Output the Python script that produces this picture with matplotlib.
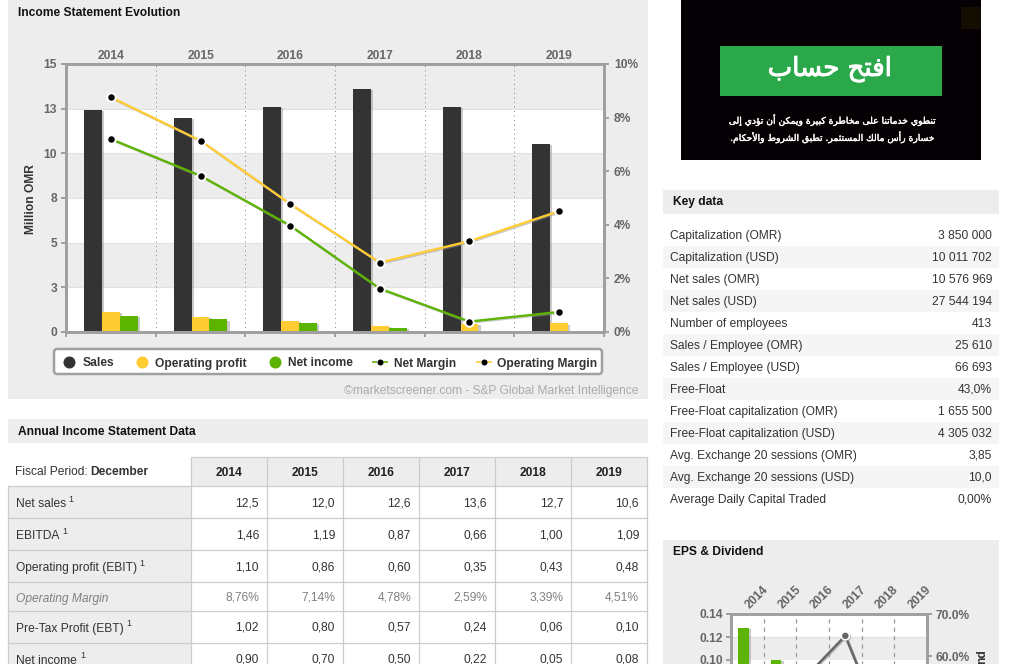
import numpy as np
import matplotlib
matplotlib.use("Agg")
import matplotlib.pyplot as plt
import matplotlib.patheffects as pe
from matplotlib.patches import Rectangle, FancyBboxPatch

W, H = 1009, 664
years = ["2014", "2015", "2016", "2017", "2018", "2019"]
sales = [12.43, 12.0, 12.6, 13.6, 12.6, 10.52]
operating_profit = [1.10, 0.86, 0.60, 0.35, 0.43, 0.48]
net_income = [0.90, 0.70, 0.50, 0.22, 0.05, 0.08]
net_margin = [7.2, 5.83, 3.97, 1.62, 0.39, 0.75]
operating_margin = [8.76, 7.14, 4.78, 2.59, 3.39, 4.51]
left_ticks = [0, 2.5, 5, 7.5, 10, 12.5, 15]
left_labels = ["0", "3", "5", "8", "10", "13", "15"]
right_ticks = [0, 2, 4, 6, 8, 10]

eps = [0.128, 0.100, 0.071, 0.031, 0.007, 0.011]
dividend_pct = [np.nan, np.nan, 56.7, 64.8, 45.7, np.nan]

table_labels = ["Net sales", "EBITDA", "Operating profit (EBIT)", "Operating Margin",
                "Pre-Tax Profit (EBT)", "Net income"]
table_values = [
    ["12,5", "12,0", "12,6", "13,6", "12,7", "10,6"],
    ["1,46", "1,19", "0,87", "0,66", "1,00", "1,09"],
    ["1,10", "0,86", "0,60", "0,35", "0,43", "0,48"],
    ["8,76%", "7,14%", "4,78%", "2,59%", "3,39%", "4,51%"],
    ["1,02", "0,80", "0,57", "0,24", "0,06", "0,10"],
    ["0,90", "0,70", "0,50", "0,22", "0,05", "0,08"],
]
key_labels = ["Capitalization (OMR)", "Capitalization (USD)", "Net sales (OMR)", "Net sales (USD)",
              "Number of employees", "Sales / Employee (OMR)", "Sales / Employee (USD)", "Free-Float",
              "Free-Float capitalization (OMR)", "Free-Float capitalization (USD)",
              "Avg. Exchange 20 sessions (OMR)", "Avg. Exchange 20 sessions (USD)",
              "Average Daily Capital Traded"]
key_values = ["3 850 000", "10 011 702", "10 576 969", "27 544 194", "413", "25 610", "66 693",
              "43,0%", "1 655 500", "4 305 032", "3,85", "10,0", "0,00%"]

ad_button = "افتح حساب"
ad_line1 = "تنطوي خدماتنا على مخاطرة كبيرة ويمكن أن تؤدي إلى"
ad_line2 = "خسارة رأس مالك المستثمر. تطبق الشروط والأحكام."

# contextual Arabic forms: letter -> (isolated, final, initial, medial)
FORMS = {
    'ا': (0xFE8D, 0xFE8E, None, None), 'أ': (0xFE83, 0xFE84, None, None), 'إ': (0xFE87, 0xFE88, None, None),
    'ب': (0xFE8F, 0xFE90, 0xFE91, 0xFE92), 'ت': (0xFE95, 0xFE96, 0xFE97, 0xFE98),
    'ث': (0xFE99, 0xFE9A, 0xFE9B, 0xFE9C), 'ح': (0xFEA1, 0xFEA2, 0xFEA3, 0xFEA4),
    'خ': (0xFEA5, 0xFEA6, 0xFEA7, 0xFEA8), 'د': (0xFEA9, 0xFEAA, None, None),
    'ر': (0xFEAD, 0xFEAE, None, None), 'س': (0xFEB1, 0xFEB2, 0xFEB3, 0xFEB4),
    'ش': (0xFEB5, 0xFEB6, 0xFEB7, 0xFEB8), 'ط': (0xFEC1, 0xFEC2, 0xFEC3, 0xFEC4),
    'ع': (0xFEC9, 0xFECA, 0xFECB, 0xFECC), 'ف': (0xFED1, 0xFED2, 0xFED3, 0xFED4),
    'ق': (0xFED5, 0xFED6, 0xFED7, 0xFED8), 'ك': (0xFED9, 0xFEDA, 0xFEDB, 0xFEDC),
    'ل': (0xFEDD, 0xFEDE, 0xFEDF, 0xFEE0), 'م': (0xFEE1, 0xFEE2, 0xFEE3, 0xFEE4),
    'ن': (0xFEE5, 0xFEE6, 0xFEE7, 0xFEE8), 'ه': (0xFEE9, 0xFEEA, 0xFEEB, 0xFEEC),
    'ة': (0xFE93, 0xFE94, None, None), 'و': (0xFEED, 0xFEEE, None, None),
    'ؤ': (0xFE85, 0xFE86, None, None), 'ى': (0xFEEF, 0xFEF0, None, None),
    'ي': (0xFEF1, 0xFEF2, 0xFEF3, 0xFEF4),
}
LAM_ALEF = {'ا': (0xFEFB, 0xFEFC), 'أ': (0xFEF7, 0xFEF8), 'إ': (0xFEF9, 0xFEFA)}


def shape(s):
    i = 0
    out = []
    chars = list(s)
    prev_join = False
    while i < len(chars):
        c = chars[i]
        if c not in FORMS:
            out.append(c)
            prev_join = False
            i += 1
            continue
        nxt = chars[i + 1] if i + 1 < len(chars) else ''
        if c == 'ل' and nxt in LAM_ALEF:
            out.append(chr(LAM_ALEF[nxt][1 if prev_join else 0]))
            prev_join = False
            i += 2
            continue
        f = FORMS[c]
        to_next = f[2] is not None and nxt in FORMS
        if prev_join and to_next:
            cp = f[3]
        elif prev_join:
            cp = f[1]
        elif to_next:
            cp = f[2]
        else:
            cp = f[0]
        out.append(chr(cp))
        prev_join = to_next
        i += 1
    return ''.join(reversed(out))


plt.rcParams['font.family'] = ['Liberation Sans', 'DejaVu Sans']
PX = 72 / 100


def px(v):
    return v * PX


fig = plt.figure(figsize=(W / 100, H / 100), dpi=100, facecolor='white')
bg = fig.add_axes([0, 0, 1, 1], zorder=0)
bg.set_xlim(0, W)
bg.set_ylim(H, 0)
bg.axis('off')


def rect(x0, y0, x1, y1, color, ax=bg, z=1, **kw):
    ax.add_patch(Rectangle((x0, y0), x1 - x0, y1 - y0, facecolor=color, edgecolor='none', zorder=z, **kw))


def txt(x, y, s, size=12, color='#333333', weight='normal', ha='left', va='center', style='normal',
        z=5, ax=bg, **kw):
    return ax.text(x, y + 1, s, fontsize=px(size), color=color, fontweight=weight, ha=ha, va=va,
                   fontstyle=style, zorder=z, **kw)


def axes_px(x0, y0, x1, y1, z=2):
    a = fig.add_axes([x0 / W, 1 - y1 / H, (x1 - x0) / W, (y1 - y0) / H], zorder=z)
    a.patch.set_alpha(0)
    return a


# ---------- panels ----------
rect(8, 0, 648, 399, '#EDEDED')
txt(18, 12, "Income Statement Evolution", weight='bold', color='#111111')
rect(8, 419, 648, 443, '#EDEDED')
txt(18, 431, "Annual Income Statement Data", weight='bold', color='#111111')
rect(663, 190, 999, 214, '#EDEDED')
txt(673, 201, "Key data", weight='bold', color='#111111')
rect(663, 540, 999, 664, '#EDEDED')
txt(673, 551, "EPS & Dividend", weight='bold', color='#111111')

# ---------- ad ----------
rect(681, 0, 981, 160, '#050003')
rect(961, 7, 981, 29, '#140D02', z=2)
rect(720, 46, 942, 96, '#2AA84A', z=2)
heavy_big = [pe.withStroke(linewidth=px(1.0), foreground='white')]
heavy_small = [pe.withStroke(linewidth=px(0.35), foreground='white')]
txt(830, 68, shape(ad_button), size=26, color='white', ha='center', family='DejaVu Sans', path_effects=heavy_big)
txt(831, 119, shape(ad_line1), size=9.2, color='white', ha='center', family='DejaVu Sans', path_effects=heavy_small)
txt(831, 136, shape(ad_line2), size=9.2, color='white', ha='center', family='DejaVu Sans', path_effects=heavy_small)

# ---------- main chart ----------
AXC = '#A0A0A0'
TICKC = '#666666'
x = np.arange(len(years))
ax = axes_px(66, 64, 604, 332)
ax.set_xlim(-0.5, 5.5)
ax.set_ylim(0, 15)
for lo, hi, c in [(0, 2.5, 'white'), (2.5, 5, '#EDEDED'), (5, 7.5, 'white'), (7.5, 10, '#EDEDED'),
                  (10, 12.5, 'white'), (12.5, 15, '#EDEDED')]:
    ax.axhspan(lo, hi, facecolor=c, edgecolor='none', zorder=0)
for t in left_ticks[1:-1]:
    ax.axhline(t, color='#E2E2E2', lw=px(1.2), zorder=0.5)
for b in x[:-1] + 0.5:
    ax.axvline(b, color='#888888', lw=px(1), ls=(0, (1, 3.5)), zorder=0.7)

shadow = [pe.SimplePatchShadow(offset=(1.6, -0.8), shadow_rgbFace='#888888', alpha=0.45), pe.Normal()]
bw = 0.2
for off, vals, c in [(-bw, sales, '#333333'), (0, operating_profit, '#FFCC33'), (bw, net_income, '#5CB300')]:
    bars = ax.bar(x + off, vals, width=bw, color=c, zorder=2, linewidth=0)
    for p in bars:
        p.set_path_effects(shadow)

ax.set_yticks(left_ticks, left_labels)
ax.set_xticks([-0.5, 5.5] + list(x[:-1] + 0.5))
ax.set_xticklabels([])
ax.set_xticks(x, years, minor=True)
ax.tick_params(axis='x', which='major', bottom=True, top=False, length=px(5), width=px(2), color=AXC)
ax.tick_params(axis='x', which='minor', bottom=False, top=True, labelbottom=False, labeltop=True, length=0,
               labelsize=px(12), labelcolor=TICKC, pad=px(2))
ax.tick_params(axis='y', length=px(5), width=px(2), color=AXC, labelsize=px(12), labelcolor=TICKC, pad=px(4))
for l in ax.get_xticklabels(minor=True) + ax.get_yticklabels():
    l.set_fontweight('bold')
for s in ax.spines.values():
    s.set_color(AXC)
    s.set_linewidth(px(3))

ax2 = ax.twinx()
ax2.patch.set_alpha(0)
ax2.set_ylim(0, 10)
ax2.set_yticks(right_ticks, [f"{t}%" for t in right_ticks])
ax2.tick_params(axis='y', length=px(5), width=px(2), color=AXC, labelsize=px(12), labelcolor=TICKC, pad=px(5))
for l in ax2.get_yticklabels():
    l.set_fontweight('bold')
for s in ax2.spines.values():
    s.set_color(AXC)
    s.set_linewidth(px(3))
line_fx = [pe.SimpleLineShadow(offset=(0.8, -0.8), shadow_color='#999999', alpha=0.5), pe.Normal()]
for vals, c in [(net_margin, '#5CB300'), (operating_margin, '#FFCC33')]:
    ax2.plot(x, vals, color=c, lw=px(2.3), zorder=3, path_effects=line_fx, solid_capstyle='butt')
    ax2.plot(x, vals, ls='none', marker='o', ms=px(8.5), mfc='black', mec='white', mew=px(2), zorder=4,
             clip_on=False)

txt(31, 198, "Million OMR", weight='bold', rotation=90, ha='center', color='#333333')

# legend
bg.add_patch(FancyBboxPatch((54, 349), 548, 25, boxstyle="round,pad=0,rounding_size=3",
                            facecolor='white', edgecolor=AXC, lw=px(2.5), zorder=3))
LY = 362
for cx, c, lab, tx in [(69, '#333333', "Sales", 83), (141.5, '#FFCC33', "Operating profit", 155),
                       (274.5, '#5CB300', "Net income", 288)]:
    bg.plot([cx], [LY], 'o', ms=px(12), color=c, mec='none', zorder=5)
    txt(tx, LY + 0.5, lab, weight='bold')
for cx, c, lab, tx in [(380, '#5CB300', "Net Margin", 394), (483.5, '#FFCC33', "Operating Margin", 497)]:
    for sgn in (-1, 1):
        bg.plot([cx + sgn * 3, cx + sgn * 8], [LY, LY], color=c, lw=px(1.6), solid_capstyle='butt', zorder=5)
    bg.plot([cx], [LY], 'o', ms=px(6), color='black', mec='none', zorder=6)
    txt(tx, LY + 0.5, lab, weight='bold')

txt(638, 390, "©marketscreener.com - S&P Global Market Intelligence", color='#ABABAB', ha='right')

# ---------- table ----------
col_edges = [191, 267, 343, 419, 495, 571, 647]
row_edges = [486, 518, 550, 582, 611, 643]
GRID = '#CCCCCC'
rect(191, 457, 647, 486, '#EDEDED')
rect(8, 486, 191, 664, '#EDEDED')
for xe in col_edges:
    bg.plot([xe, xe], [457, 664], color=GRID, lw=px(1.2), zorder=3, solid_capstyle='butt')
bg.plot([8, 8], [486, 664], color=GRID, lw=px(1.2), zorder=3)
bg.plot([191, 647], [457, 457], color=GRID, lw=px(1.2), zorder=3)
for ye in row_edges:
    bg.plot([8, 647], [ye, ye], color=GRID, lw=px(1.2), zorder=3)
txt(15, 471, "Fiscal Period: ")
txt(90, 471, "December", weight='bold')
for i, y_ in enumerate(years):
    txt((col_edges[i] + col_edges[i + 1]) / 2, 472, y_, weight='bold', ha='center', color='#222222')
row_y = [502, 534, 566, 597, 627, 659]
sup_x = [68, 62, 139, None, 126, 80]
for lab, vals, y0, sx in zip(table_labels, table_values, row_y, sup_x):
    margin = lab == "Operating Margin"
    txt(16, y0 + 1, lab, color='#808080' if margin else '#333333', style='italic' if margin else 'normal')
    if sx:
        txt(sx, y0 - 4, "1", size=9)
    for i, v in enumerate(vals):
        txt(col_edges[i + 1] - 8, y0, v, ha='right', color='#808080' if margin else '#333333')

# ---------- key data ----------
for i, (lab, v) in enumerate(zip(key_labels, key_values)):
    top = 224 + 22 * i
    if i % 2 == 1:
        rect(663, top, 999, top + 22, '#F5F5F5')
    txt(670, top + 11, lab)
    txt(992, top + 11, v, ha='right')

# ---------- EPS chart ----------
y_bottom = 775
ex = axes_px(731, 614, 927, y_bottom)
ex.set_xlim(-0.5, 5.5)
ex.set_ylim(0, 0.14)
ex.axhspan(0, 0.10, facecolor='white', edgecolor='none', zorder=0)
ex.axhspan(0.10, 0.12, facecolor='#EDEDED', edgecolor='none', zorder=0)
ex.axhspan(0.12, 0.14, facecolor='white', edgecolor='none', zorder=0)
ex.axhline(0.12, color='#E2E2E2', lw=px(1.2), zorder=0.5)
for b in x[:-1] + 0.5:
    ex.axvline(b, color='#999999', lw=px(1.2), ls=(0, (3.5, 3.5)), zorder=0.7)
bars = ex.bar(x - 0.12, eps, width=0.32, color='#5CB300', linewidth=0, zorder=2)
for p in bars:
    p.set_path_effects(shadow)
ex.set_yticks([0.14, 0.12, 0.10], ["0.14", "0.12", "0.10"])
ex.set_xticks([])
ex.tick_params(axis='y', length=px(5), width=px(2), color=AXC, labelsize=px(12), labelcolor=TICKC, pad=px(3))
for l in ex.get_yticklabels():
    l.set_fontweight('bold')
for s in ex.spines.values():
    s.set_color(AXC)
    s.set_linewidth(px(3))
ex2 = ex.twinx()
ex2.patch.set_alpha(0)
ex2.set_ylim(70 - (y_bottom - 614) / 4.2, 70)
ex2.set_yticks([70, 60], ["70.0%", "60.0%"])
ex2.tick_params(axis='y', length=px(5), width=px(2), color=AXC, labelsize=px(12), labelcolor=TICKC, pad=px(3))
for l in ex2.get_yticklabels():
    l.set_fontweight('bold')
for s in ex2.spines.values():
    s.set_color(AXC)
    s.set_linewidth(px(3))
ex2.plot(x, dividend_pct, color='#666666', lw=px(2.6), marker='o', ms=px(8), mfc='#666666', mec='white',
         mew=px(1.5), zorder=3, path_effects=line_fx)
for i, y_ in enumerate(years):
    txt(757 + 32.6 * i, 596, y_, weight='bold', color=TICKC, ha='center', rotation=45, z=6)
txt(982, 656, "nd", weight='bold', rotation=90, ha='center', color='#333333', z=6)

fig.savefig("out.png", dpi=100)
